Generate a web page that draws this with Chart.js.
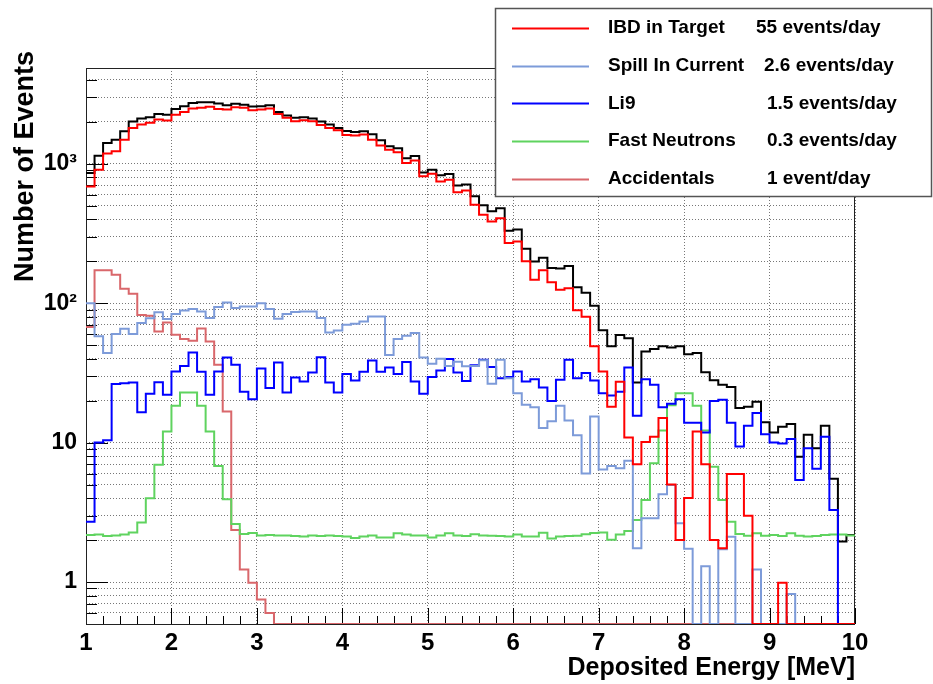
<!DOCTYPE html>
<html>
<head>
<meta charset="utf-8">
<script src="https://cdn.jsdelivr.net/npm/chart.js@4.4.1/dist/chart.umd.min.js"></script>
<style>
  html, body { margin: 0; padding: 0; background: #fff; }
  #wrap { width: 933px; height: 684px; }
</style>
</head>
<body>
<div id="wrap"><canvas id="chart-spectre" width="933" height="684"></canvas></div>
<script>
// Spectre en énergie déposée : 90 bins de 0.1 MeV entre 1 et 10 MeV
const binStart = 1;
const binWidth = 0.1;

// Somme de toutes les contributions (noir)
const totalCounts = [
  859, 1143, 1410, 1489, 1710, 2006, 2108, 2154, 2277, 2250,
  2473, 2582, 2731, 2758, 2758, 2700, 2624, 2690, 2650, 2570,
  2582, 2624, 2354, 2216, 2133, 2154, 2108, 2006, 1910, 1807,
  1719, 1691, 1710, 1626, 1472, 1333, 1290, 1094, 1137, 867,
  907, 826, 845, 697, 711, 584, 503, 456, 479, 331,
  337, 246, 199, 212, 179, 177, 185, 130, 119, 96,
  64, 49, 59, 56, 27, 45, 47, 49, 48, 49,
  43, 44, 32, 28, 26, 25, 17.7, 18.1, 19.6, 14.0,
  11.8, 13.0, 13.6, 7.9, 11.4, 9.1, 13.2, 5.5, 1.95, 2.17
];

const ibdCounts = [
  688, 907, 1182, 1228, 1489, 1807, 1910, 1964, 2073, 2040,
  2250, 2354, 2488, 2517, 2560, 2473, 2445, 2540, 2517, 2418,
  2445, 2488, 2270, 2133, 2017, 2050, 2017, 1898, 1807, 1738,
  1608, 1591, 1618, 1489, 1349, 1262, 1208, 1013, 1053, 812,
  849, 747, 769, 624, 644, 508, 431, 386, 406, 270,
  277, 200, 147, 172, 141, 125, 128, 89, 80, 49,
  32.4, 18.1, 27.3, 10.9, 7.0, 10.1, 11.0, 15.0, 5.0, 2.0,
  4.0, 12.0, 7.0, 2.0, 1.75, 5.96, 5.96, 2.99, 0, 0,
  0, 0.99, 0, 0, 0, 0, 0, 0, 0, 0
];

const spillCounts = [
  100, 58, 44, 60, 65.5, 60, 72, 78, 86, 77,
  83.5, 88.7, 90.7, 87.3, 78.2, 93.8, 101, 92.2, 94.7, 94.7,
  100, 90.7, 77.3, 83.5, 86.4, 87.3, 87.3, 78.2, 61.6, 63.7,
  70, 71.1, 73.9, 80.3, 80.3, 42.4, 55.3, 58.3, 61, 40.8,
  36.7, 39.9, 35.5, 38, 35.3, 35.5, 39, 26.4, 39.3, 29,
  22.6, 18.7, 17.9, 12.7, 14.2, 18.4, 14.4, 11.3, 6.0, 15.4,
  6.4, 6.8, 6.55, 7.4, 1.75, 2.87, 2.87, 4.26, 4.97, 2.64,
  1.73, 0, 1.30, 0, 1.72, 2.11, 0, 0, 1.23, 0,
  0, 0, 0.82, 0, 0, 0, 0, 0, 0, 0
];

const li9Counts = [
  2.71, 10.0, 10.4, 26.3, 26.7, 27.0, 16.5, 22.4, 27.1, 22.0,
  32.4, 35.5, 44.3, 32.2, 22.0, 32.4, 40.8, 36.1, 23.2, 20.5,
  34.0, 24.6, 37.5, 22.9, 29.3, 27.4, 31.8, 41.0, 27.0, 22.9,
  31.0, 27.9, 32.2, 38.8, 32.2, 34.5, 31.1, 37.8, 27.4, 22.4,
  29.5, 32.9, 39.7, 31.8, 27.7, 35.9, 39.3, 34.8, 29.0, 29.5,
  32.4, 27.4, 28.5, 24.8, 19.9, 28.2, 39.3, 29.0, 31.5, 27.9,
  22.6, 21.8, 23.2, 34.5, 15.6, 28.5, 26.0, 17.9, 19.0, 20.5,
  13.9, 13.9, 11.8, 19.9, 20.3, 13.9, 9.36, 13.2, 16.3, 11.5,
  10.0, 9.84, 10.6, 5.40, 9.12, 6.48, 11.0, 3.29, 0, 0
];

const fastNCounts = [
  2.17, 2.19, 2.14, 2.16, 2.19, 2.27, 2.67, 3.99, 6.95, 12.0,
  18.4, 22.9, 22.9, 18.4, 12.0, 6.8, 3.92, 2.61, 2.21, 2.25,
  2.16, 2.17, 2.16, 2.16, 2.14, 2.12, 2.16, 2.14, 2.16, 2.14,
  2.12, 2.07, 2.12, 2.16, 2.09, 2.09, 2.24, 2.19, 2.16, 2.16,
  2.09, 2.16, 2.24, 2.16, 2.14, 2.20, 2.16, 2.15, 2.14, 2.12,
  2.19, 2.12, 2.12, 2.26, 2.05, 2.12, 2.14, 2.15, 2.20, 2.25,
  2.27, 2.01, 2.19, 2.32, 2.79, 3.88, 7.11, 12.2, 18.5, 22.6,
  22.6, 18.4, 12.2, 6.72, 3.88, 2.71, 2.21, 2.15, 2.24, 2.15,
  2.17, 2.14, 2.24, 2.15, 2.12, 2.14, 2.17, 2.19, 2.19, 2.16
];

const accCounts = [
  67.4, 172, 172, 160, 127, 117, 82.1, 81.2, 62.6, 72.7,
  59.3, 55.3, 53.7, 65.8, 53.1, 36.1, 16.7, 2.36, 1.23, 0.99,
  0.75, 0.60, 0, 0, 0, 0, 0, 0, 0, 0,
  0, 0, 0, 0, 0, 0, 0, 0, 0, 0,
  0, 0, 0, 0, 0, 0, 0, 0, 0, 0,
  0, 0, 0, 0, 0, 0, 0, 0, 0, 0,
  0, 0, 0, 0, 0, 0, 0, 0, 0, 0,
  0, 0, 0, 0, 0, 0, 0, 0, 0, 0,
  0, 0, 0, 0, 0, 0, 0, 0, 0, 0
];

const seriesNames = ['IBD in Target', 'Spill In Current', 'Li9', 'Fast Neutrons', 'Accidentals'];
const seriesRates = ['55 events/day', '2.6 events/day', '1.5 events/day', '0.3 events/day', '1 event/day'];
const seriesColors = ['#ff0000', '#7d9bd9', '#0000ff', '#5fd35f', '#d9676b'];

// Graduations
const xTickValues = [1, 2, 3, 4, 5, 6, 7, 8, 9, 10];
const yLabelValues = [1, 10, 100, 1000];
const yLabelTexts = ['1', '10', '10²', '10³'];
const yMin = 0.5;
const yMax = 4860;

const FONT = "'Liberation Sans', Arial, sans-serif";

// Transforme un tableau de contenus de bins en points "en escalier"
function versEscalier(values) {
  const pts = values.map((v, i) => ({ x: binStart + i * binWidth, y: Math.max(v, yMin) }));
  pts.push({ x: binStart + values.length * binWidth, y: Math.max(values[values.length - 1], yMin) });
  return pts;
}

// Lignes de grille horizontales (multiples 1..9 de chaque décade)
const yGridValues = [];
for (let d = -1; d <= 3; d++) {
  for (let m = 1; m <= 9; m++) {
    const v = m * Math.pow(10, d);
    if (v >= yMin && v <= yMax) yGridValues.push(v);
  }
}

// Cadre et graduations à l'intérieur, façon ROOT
const cadreRoot = {
  id: 'cadreRoot',
  beforeDatasetsDraw(chart) {
    const { ctx, chartArea } = chart;
    const { left, right, top, bottom } = chartArea;
    const sx = chart.scales.x, sy = chart.scales.y;
    ctx.save();
    ctx.strokeStyle = '#000';
    ctx.lineWidth = 1;
    ctx.beginPath();
    yGridValues.forEach(v => {
      const py = Math.round(sy.getPixelForValue(v)) + 0.5;
      const major = yLabelValues.includes(v);
      ctx.moveTo(left, py);
      ctx.lineTo(left + (major ? 22 : 11), py);
    });
    for (let k = 0; k <= 45; k++) {
      const v = binStart + k * 0.2;
      const px = Math.round(sx.getPixelForValue(v)) + 0.5;
      ctx.moveTo(px, bottom);
      ctx.lineTo(px, bottom - (k % 5 === 0 ? 16 : 8));
    }
    ctx.stroke();
    ctx.strokeStyle = '#222';
    ctx.strokeRect(left + 0.5, top + 0.5, right - left - 1, bottom - top);
    ctx.restore();
  },
  afterDraw(chart) {
    const ctx = chart.ctx;
    ctx.save();
    // titre de l'axe Y
    ctx.fillStyle = '#000';
    ctx.font = 'bold 27px ' + FONT;
    ctx.translate(26, 51);
    ctx.rotate(-Math.PI / 2);
    ctx.textAlign = 'right';
    ctx.textBaseline = 'middle';
    ctx.fillText('Number of Events', 0, 0);
    ctx.restore();

    // légende
    ctx.save();
    ctx.fillStyle = '#fff';
    ctx.fillRect(495, 8, 437, 189);
    ctx.strokeStyle = '#555';
    ctx.lineWidth = 1.5;
    ctx.strokeRect(495.5, 8.5, 436, 188);
    const rateX = [756, 764, 767, 767, 767];
    ctx.font = 'bold 19px ' + FONT;
    ctx.textBaseline = 'middle';
    ctx.textAlign = 'left';
    seriesNames.forEach((nom, i) => {
      const y = 27.7 + i * 37.8;
      ctx.strokeStyle = seriesColors[i];
      ctx.lineWidth = 2;
      ctx.beginPath();
      ctx.moveTo(512, Math.round(y) + 0.5);
      ctx.lineTo(589, Math.round(y) + 0.5);
      ctx.stroke();
      ctx.fillStyle = '#000';
      ctx.fillText(nom, 608, y);
      ctx.fillText(seriesRates[i], rateX[i], y);
    });
    ctx.restore();
  }
};

const seriesData = [ibdCounts, spillCounts, li9Counts, fastNCounts, accCounts];

const datasets = seriesData.map((vals, i) => ({
  label: seriesNames[i],
  data: versEscalier(vals),
  borderColor: seriesColors[i],
  borderWidth: 2,
  pointRadius: 0,
  stepped: true,
  fill: false
}));
datasets.push({
  label: 'Total',
  data: versEscalier(totalCounts),
  borderColor: '#000',
  borderWidth: 2,
  pointRadius: 0,
  stepped: true,
  fill: false
});

new Chart(document.getElementById('chart-spectre'), {
  type: 'line',
  data: { datasets },
  plugins: [cadreRoot],
  options: {
    responsive: false,
    animation: false,
    events: [],
    layout: { padding: { top: 68, right: 78, left: 0, bottom: 0 } },
    plugins: {
      legend: { display: false },
      tooltip: { enabled: false }
    },
    scales: {
      x: {
        type: 'linear',
        min: 1,
        max: 10,
        afterFit(scale) { scale.height = 60; },
        afterBuildTicks(scale) { scale.ticks = xTickValues.map(v => ({ value: v })); },
        grid: { color: '#777', lineWidth: 1, drawTicks: false },
        border: { display: false, dash: [1, 2] },
        ticks: {
          autoSkip: false,
          maxRotation: 0,
          padding: 5,
          color: '#000',
          font: { family: FONT, size: 24, weight: 'bold' },
          callback: v => String(v)
        },
        title: {
          display: true,
          text: 'Deposited Energy [MeV]',
          align: 'end',
          color: '#000',
          font: { family: FONT, size: 25, weight: 'bold' },
          padding: { top: 0, bottom: 1 }
        }
      },
      y: {
        type: 'logarithmic',
        min: yMin,
        max: yMax,
        afterFit(scale) { scale.width = 86; },
        afterBuildTicks(scale) { scale.ticks = yGridValues.map(v => ({ value: v })); },
        grid: { color: '#777', lineWidth: 1, drawTicks: false },
        border: { display: false, dash: [1, 2] },
        ticks: {
          autoSkip: false,
          padding: 9,
          color: '#000',
          font: { family: FONT, size: 23, weight: 'bold' },
          callback: v => {
            const k = yLabelValues.indexOf(v);
            return k >= 0 ? yLabelTexts[k] : '';
          }
        }
      }
    }
  }
});
</script>
</body>
</html>
